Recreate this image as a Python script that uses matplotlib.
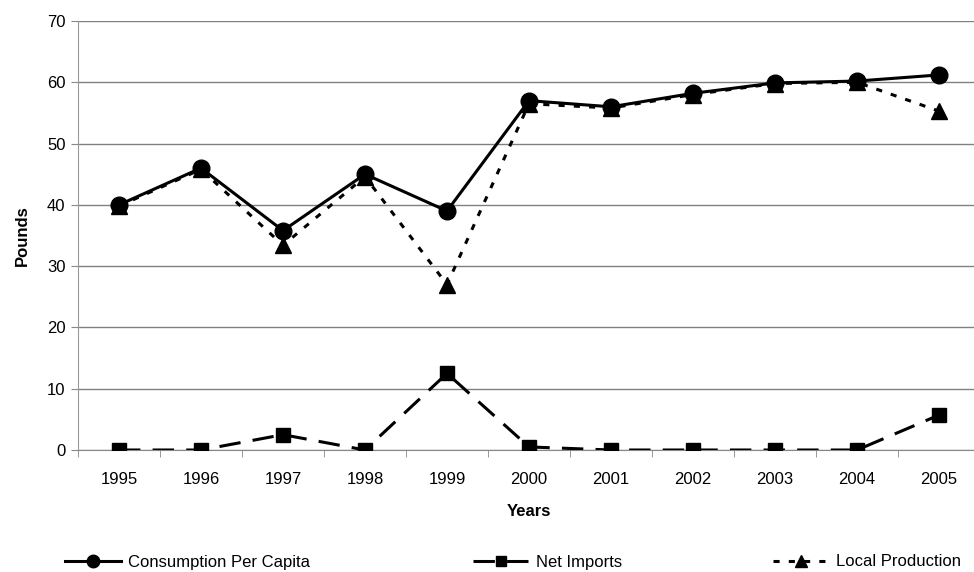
import matplotlib.pyplot as plt

plt.rcParams['font.family'] = ['Liberation Sans', 'DejaVu Sans']

years = ['1995', '1996', '1997', '1998', '1999', '2000',
         '2001', '2002', '2003', '2004', '2005']
consumption = [40, 46, 35.8, 45, 39, 57, 56, 58.2, 59.9, 60.2, 61.2]
net_imports = [0, 0, 2.5, 0, 12.5, 0.5, 0, 0, 0, 0, 5.7]
local_prod = [39.8, 45.8, 33.4, 44.6, 27, 56.5, 55.8, 58, 59.8, 60, 55.3]

fig = plt.figure(figsize=(9.74, 5.72), dpi=100)
ax = fig.add_axes([78/974, 1 - 450/572, 902/974, 429/572])

x = range(len(years))
l_loc, = ax.plot(x, local_prod, color='black', lw=2.2, ls=(0, (2, 3)),
                 marker='^', markersize=11, label='Local Production', zorder=3)
l_net, = ax.plot(x, net_imports, color='black', lw=2.2, ls=(0, (7, 4)),
                 marker='s', markersize=10, label='Net Imports', zorder=4)
l_con, = ax.plot(x, consumption, color='black', lw=2.2, ls='-',
                 marker='o', markersize=12, label='Consumption Per Capita', zorder=5)

ax.set_xlim(-0.5, 10.5)
ax.set_ylim(0, 70)
ax.set_yticks(range(0, 71, 10))
ax.set_xticks(x)
ax.set_xticklabels(years)
ax.tick_params(axis='y', labelsize=12, length=5, pad=4, color='#888888')
ax.tick_params(axis='x', labelsize=12, length=0, pad=16)
# tick marks between categories
ax.set_xticks([i - 0.5 for i in range(len(years) + 1)], minor=True)
ax.tick_params(axis='x', which='minor', length=5, color='#888888')

ax.grid(axis='y', color='#808080', lw=1)
ax.set_axisbelow(True)
for s in ['top', 'right']:
    ax.spines[s].set_visible(False)
ax.spines['left'].set_color('#999999')
ax.spines['bottom'].set_color('#888888')

ax.set_ylabel('Pounds', fontsize=12, fontweight='bold', labelpad=12)
ax.set_xlabel('Years', fontsize=12, fontweight='bold', labelpad=12)

# three legend entries spread along the bottom
for h, xpos in [(l_con, 58), (l_net, 466), (l_loc, 766)]:
    leg = fig.legend([h], [h.get_label()], loc='center left',
                     bbox_to_anchor=(xpos/974, 10/572), frameon=False,
                     fontsize=12, handlelength=3.4, handletextpad=0.4,
                     markerscale=0.75, borderaxespad=0)

fig.savefig('out.png', dpi=100)
